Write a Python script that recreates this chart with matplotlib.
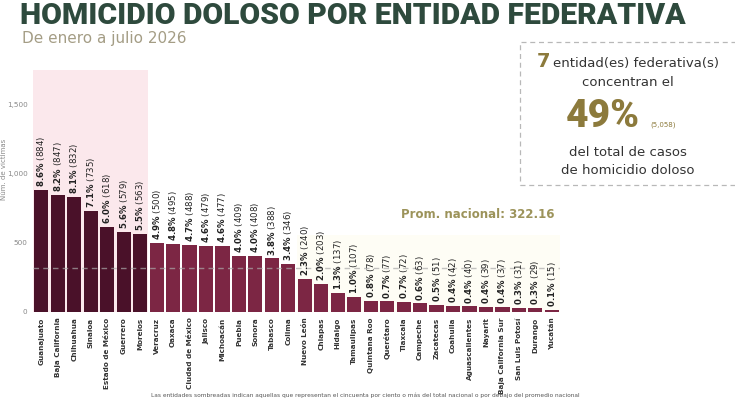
import numpy as np
import matplotlib
matplotlib.use("Agg")
import matplotlib.pyplot as plt
from matplotlib.patches import Rectangle

# data
estados = ["Guanajuato", "Baja California", "Chihuahua", "Sinaloa", "Estado de México",
           "Guerrero", "Morelos", "Veracruz", "Oaxaca", "Ciudad de México", "Jalisco",
           "Michoacán", "Puebla", "Sonora", "Tabasco", "Colima", "Nuevo León", "Chiapas",
           "Hidalgo", "Tamaulipas", "Quintana Roo", "Querétaro", "Tlaxcala", "Campeche",
           "Zacatecas", "Coahuila", "Aguascalientes", "Nayarit", "Baja California Sur",
           "San Luis Potosí", "Durango", "Yucatán"]
victimas = [884, 847, 832, 735, 618, 579, 563, 500, 495, 488, 479, 477, 409, 408, 388,
            346, 240, 203, 137, 107, 78, 77, 72, 63, 51, 42, 40, 39, 37, 31, 29, 15]
porcentaje = [8.6, 8.2, 8.1, 7.1, 6.0, 5.6, 5.5, 4.9, 4.8, 4.7, 4.6, 4.6, 4.0, 4.0, 3.8,
              3.4, 2.3, 2.0, 1.3, 1.0, 0.8, 0.7, 0.7, 0.6, 0.5, 0.4, 0.4, 0.4, 0.4, 0.3, 0.3, 0.1]
yticks = [0, 500, 1000, 1500]
promedio = 322.16
n_top = 7
pct_top = 49
total_top = "5,058"

dark = "#4a1129"
light = "#7c2644"
gold = "#8c7a3c"
green = "#2e4a3d"

fig = plt.figure(figsize=(7.35, 4), dpi=100)
ax = fig.add_axes([0.045, 0.22, 0.717, 0.604])
x = np.arange(len(estados))
ax.set_xlim(-0.5, len(estados) - 0.5)
ax.set_ylim(0, 1750)

# shaded regions
ax.add_patch(Rectangle((-0.5, 0), n_top, 1750, color="#fbe8ec", zorder=0, lw=0))
below = [i for i, v in enumerate(victimas) if v < promedio]
ax.add_patch(Rectangle((below[0] - 0.5, 0), len(below), 560, color="#fefdf5", zorder=0, lw=0))

colors = [dark if i < n_top else light for i in range(len(estados))]
ax.bar(x, victimas, width=0.86, color=colors, zorder=2)
ax.axhline(promedio, color="#aaaaaa", ls=(0, (4, 3)), lw=1, zorder=3, alpha=0.7)

for i, (v, p) in enumerate(zip(victimas, porcentaje)):
    ax.annotate(f"$\\mathbf{{{p:.1f}\\%}}$ ({v})", (i, v), xytext=(0, 2),
                textcoords="offset points", rotation=90, ha="center", va="bottom",
                fontsize=6.2, color="#222222")

ax.set_xticks(x)
ax.set_xticklabels(estados, rotation=90, fontsize=5.2, color="#333333", fontweight="bold",
                   family=["Liberation Sans Narrow", "DejaVu Sans"])
ax.set_yticks(yticks)
ax.set_yticklabels([f"{t:,}" for t in yticks], fontsize=5.2, color="#888888")
ax.tick_params(length=0, pad=4)
ax.set_ylabel("Núm. de víctimas", fontsize=5, color="#888888")
ax.yaxis.set_label_coords(-0.05, 0.59)
for s in ax.spines.values():
    s.set_visible(False)

fig.text(478 / 735, 1 - 214 / 400, f"Prom. nacional: {promedio:.2f}",
         fontsize=8.5, fontweight="bold", color="#9c935a", ha="center", va="center")

# titles
title = fig.text(0.027, 1 - 24 / 400, "HOMICIDIO DOLOSO POR ENTIDAD FEDERATIVA", fontsize=22,
                 family="Roboto", fontweight=900, color=green, va="baseline", ha="left")
fig.canvas.draw()
r = fig.canvas.get_renderer()
w = title.get_window_extent(r).width
title.set_fontsize(22 * 664 / w)
fig.text(0.03, 1 - 38 / 400, "De enero a julio 2026", fontsize=11, color="#a49d85", va="center")

# summary box
fig.add_artist(Rectangle((0.708, 0.538), 0.31, 0.357, transform=fig.transFigure, fill=False,
                         ec="#b8b8b8", ls=(0, (4, 3)), lw=0.9))


def pair(y, t1, kw1, t2, kw2, cx, gap=3):
    a = fig.text(0, y, t1, va="baseline", **kw1)
    b = fig.text(0, y, t2, va="baseline", **kw2)
    fig.canvas.draw()
    w1 = a.get_window_extent(r).width
    w2 = b.get_window_extent(r).width
    x0 = cx * 735 - (w1 + gap + w2) / 2
    a.set_x(x0 / 735)
    b.set_x((x0 + w1 + gap) / 735)


cx = 628 / 735
pair(1 - 67 / 400, str(n_top), dict(fontsize=14, fontweight="bold", color=gold),
     "entidad(es) federativa(s)", dict(fontsize=9.5, color="#333333"), cx)
fig.text(cx, 1 - 83 / 400, "concentran el", fontsize=9.5, color="#333333",
         ha="center", va="center")
pair(1 - 127 / 400, f"{pct_top}%", dict(fontsize=28, family="Roboto", fontweight=900, color=gold),
     f"({total_top})", dict(fontsize=5, color=gold), cx - 0.01, gap=10)
fig.text(cx, 1 - 152 / 400, "del total de casos", fontsize=9.5, color="#333333",
         ha="center", va="center")
fig.text(cx, 1 - 170 / 400, "de homicidio doloso", fontsize=9.5, color="#333333",
         ha="center", va="center")

fig.text(0.497, 0.012, "Las entidades sombreadas indican aquellas que representan el cincuenta "
         "por ciento o más del total nacional o por debajo del promedio nacional",
         fontsize=4.2, color="#555555", ha="center", va="center")

fig.savefig("out.png", dpi=100)
